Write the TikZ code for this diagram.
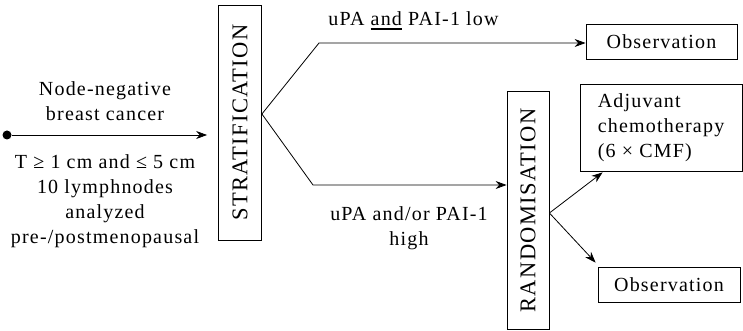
\documentclass[tikz,border=0pt]{standalone}
\usepackage{fontspec}
\setmainfont[LetterSpace=6]{Liberation Serif}
\usetikzlibrary{arrows.meta}
\newcommand\thickul[1]{\setbox0\hbox{#1}\rlap{\rule[-4pt]{\wd0}{1.6pt}}\box0\relax}
\begin{document}
\begin{tikzpicture}[x=1pt,y=-1pt,line width=0.8pt,
    font=\fontsize{20}{25}\selectfont,
    box/.style={draw,inner sep=0pt},
    tallbox/.style={box,rotate=90,font=\fontsize{22.5}{25}\selectfont},
    label/.style={align=center,inner sep=0pt}]
      \useasboundingbox (0,0) rectangle (743,331);
      \draw
        (7,135) node[circle,fill,inner sep=0pt,minimum size=9pt] (src){}
        (105,81) node[label,anchor=north] (pat){Node-negative\\breast cancer}
        (105,154) node[label,anchor=north] (crit){T ≥ 1 cm and ≤ 5 cm\\10 lymphnodes\\analyzed\\pre-/postmenopausal}
        (240,122.5) node[tallbox,minimum width=235pt,minimum height=43pt] (strat){STRATIFICATION}
        (528,210.5) node[tallbox,minimum width=238pt,minimum height=42pt] (rand){RANDOMISATION}
        (661.5,41.5) node[box,minimum width=151pt,minimum height=35pt] (obsA){Observation}
        (661,127.5) node[box,align=left,minimum width=162pt,minimum height=87pt] (adj){Adjuvant\\chemotherapy\\(6 × CMF)}
        (669,284.5) node[box,minimum width=142pt,minimum height=35pt] (obsB){Observation}
        (413.5,26) node[label,anchor=base] (low){uPA \thickul{and} PAI-1 low}
        (409,206) node[label,anchor=north] (high){uPA and/or PAI-1\\high};
      % rotated boxes: north is the left side, south the right side
      \coordinate (split) at (strat.south |- 0,114);
      \coordinate (bendA) at (319,43);
      \coordinate (bendB) at (313,185);
      \coordinate (rsplit) at (rand.south |- 0,213);
      \begin{scope}[-{Stealth[length=11pt,width=8pt]}]
        \draw[shorten >=11pt] (src) to (src -| strat.north);
        \draw (split) -- (bendA) -- (bendA -| obsA.west);
        \draw (split) -- (bendB) -- (bendB -| rand.north);
        \draw (rsplit) to ([xshift=23pt,yshift=-1pt]adj.south west);
        \draw (rsplit) to ([xshift=-2pt,yshift=4pt]obsB.north west);
      \end{scope}
    \end{tikzpicture}
\end{document}
